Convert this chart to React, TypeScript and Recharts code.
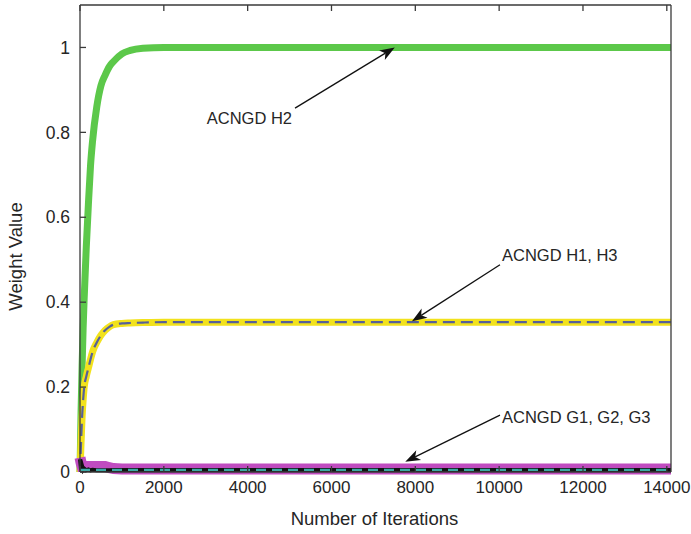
import React from 'react';
import { LineChart, Line, XAxis, YAxis, ReferenceLine } from 'recharts';

// Iteration checkpoints (x values)
const iterations = [0, 25, 50, 75, 100, 150, 200, 250, 300, 400, 500, 600, 700, 800, 1000, 1200, 1500, 2000, 4000, 6000, 8000, 10000, 12000, 14000, 14100];

// ACNGD weights per iteration
const weightH2 = [0, 0.14, 0.25, 0.34, 0.41, 0.53, 0.63, 0.72, 0.78, 0.86, 0.91, 0.935, 0.955, 0.967, 0.985, 0.993, 0.998, 1, 1, 1, 1, 1, 1, 1, 1];
const weightH1 = [0, 0.07, 0.13, 0.17, 0.2, 0.225, 0.245, 0.265, 0.283, 0.305, 0.322, 0.334, 0.342, 0.347, 0.35, 0.351, 0.352, 0.353, 0.353, 0.353, 0.353, 0.353, 0.353, 0.353, 0.353];
const weightH3 = [0, 0.07, 0.13, 0.17, 0.2, 0.225, 0.245, 0.265, 0.283, 0.305, 0.322, 0.334, 0.342, 0.347, 0.35, 0.351, 0.352, 0.353, 0.353, 0.353, 0.353, 0.353, 0.353, 0.353, 0.353];
const weightG1 = [0.034, 0.022, 0.013, 0.013, 0.013, 0.013, 0.013, 0.013, 0.013, 0.013, 0.013, 0.013, 0.01, 0.008, 0.007, 0.007, 0.007, 0.007, 0.007, 0.007, 0.007, 0.007, 0.007, 0.007, 0.007];
const weightG2 = [0.03, 0.006, 0.014, 0.005, 0.008, 0.004, 0.006, 0.004, 0.005, 0.004, 0.004, 0.004, 0.004, 0.005, 0.005, 0.005, 0.005, 0.005, 0.005, 0.005, 0.005, 0.005, 0.005, 0.005, 0.005];
const weightG3 = [0.005, 0.005, 0.005, 0.005, 0.005, 0.005, 0.005, 0.005, 0.005, 0.005, 0.005, 0.005, 0.005, 0.005, 0.005, 0.005, 0.005, 0.005, 0.005, 0.005, 0.005, 0.005, 0.005, 0.005, 0.005];

// Axis ticks and limits
const xTicks = [0, 2000, 4000, 6000, 8000, 10000, 12000, 14000];
const xLimits = [0, 14100];
const yTicks = [0, 0.2, 0.4, 0.6, 0.8, 1];
const yLimits = [0, 1.1];

// Annotations: text, arrow tail (iteration, weight), arrow tip (iteration, weight)
const annoText = ['ACNGD H2', 'ACNGD H1, H3', 'ACNGD G1, G2, G3'];
const annoTail = [[5130, 0.857], [10020, 0.488], [10020, 0.134]];
const annoTip = [[7510, 1.0], [7920, 0.355], [7760, 0.024]];
const annoTextStyle = [
  { dx: -3, dy: 10, anchor: 'end' },
  { dx: 2, dy: -10, anchor: 'start' },
  { dx: 2, dy: 2, anchor: 'start' },
];

const rows = iterations.map((it, i) => ({
  it,
  h2: weightH2[i],
  h1: weightH1[i],
  h3: weightH3[i],
  g1: weightG1[i],
  g2: weightG2[i],
  g3: weightG3[i],
}));

const FONT = '"Liberation Sans", Arial, sans-serif';
const TEXT = '#262626';
const AXIS = '#3a3a3a';

function Arrow(props: any) {
  const { x1, y1, x2, y2, text, style } = props;
  const dx = x2 - x1;
  const dy = y2 - y1;
  const len = Math.sqrt(dx * dx + dy * dy) || 1;
  const ux = dx / len;
  const uy = dy / len;
  const nx = -uy;
  const ny = ux;
  const L = 15;
  const W = 5.5;
  const notch = 4;
  const bx = x2 - L * ux;
  const by = y2 - L * uy;
  const mx = x2 - (L - notch) * ux;
  const my = y2 - (L - notch) * uy;
  const head = `${x2},${y2} ${bx + W * nx},${by + W * ny} ${mx},${my} ${bx - W * nx},${by - W * ny}`;
  return (
    <g>
      <line x1={x1} y1={y1} x2={mx} y2={my} stroke="#111" strokeWidth={1.3} />
      <polygon points={head} fill="#111" />
      <text
        x={x1 + style.dx}
        y={y1 + style.dy}
        textAnchor={style.anchor}
        dominantBaseline="central"
        fontFamily={FONT}
        fontSize={16.5}
        fill={TEXT}
      >
        {text}
      </text>
    </g>
  );
}

const fmtY = (v: number) => (v === 0 ? '0' : v === 1 ? '1' : String(v));

export default function App() {
  return (
    <div style={{ position: 'absolute', left: 0, top: 0, background: '#fff' }}>
      <LineChart
        width={691}
        height={534}
        data={rows}
        margin={{ top: 4, right: 19, bottom: 0, left: 0 }}
      >
        <XAxis
          xAxisId={0}
          dataKey="it"
          type="number"
          domain={xLimits}
          ticks={xTicks}
          height={62}
          tickSize={-6}
          tickMargin={15}
          axisLine={{ stroke: AXIS, strokeWidth: 1.3 }}
          tickLine={{ stroke: AXIS, strokeWidth: 1.3 }}
          tick={{ fill: TEXT, fontSize: 17, fontFamily: FONT }}
          interval={0}
          label={{
            content: (p: any) => {
              const vb = p.viewBox;
              return (
                <text
                  x={vb.x + vb.width / 2 - 1}
                  y={vb.y + 46}
                  textAnchor="middle"
                  dominantBaseline="central"
                  fontFamily={FONT}
                  fontSize={18.5}
                  fill={TEXT}
                >
                  Number of Iterations
                </text>
              );
            },
          }}
        />
        <XAxis
          xAxisId="top"
          orientation="top"
          dataKey="it"
          type="number"
          domain={xLimits}
          ticks={xTicks}
          height={1}
          tickSize={-6}
          interval={0}
          tickFormatter={() => ''}
          axisLine={{ stroke: AXIS, strokeWidth: 1.3 }}
          tickLine={{ stroke: AXIS, strokeWidth: 1.3 }}
        />
        <YAxis
          yAxisId={0}
          type="number"
          domain={yLimits}
          ticks={yTicks}
          width={80}
          tickSize={-6}
          tickMargin={16}
          interval={0}
          tickFormatter={fmtY}
          axisLine={{ stroke: AXIS, strokeWidth: 1.3 }}
          tickLine={{ stroke: AXIS, strokeWidth: 1.3 }}
          tick={{ fill: TEXT, fontSize: 17.5, fontFamily: FONT }}
          label={{
            content: (p: any) => {
              const vb = p.viewBox;
              const cx = vb.x + 15;
              const cy = vb.y + vb.height / 2 + 18;
              return (
                <text
                  x={cx}
                  y={cy}
                  transform={`rotate(-90, ${cx}, ${cy})`}
                  textAnchor="middle"
                  dominantBaseline="central"
                  fontFamily={FONT}
                  fontSize={18.5}
                  fill={TEXT}
                >
                  Weight Value
                </text>
              );
            },
          }}
        />
        <YAxis
          yAxisId="right"
          orientation="right"
          type="number"
          domain={yLimits}
          ticks={yTicks}
          width={1}
          tickSize={-6}
          interval={0}
          tickFormatter={() => ''}
          axisLine={{ stroke: AXIS, strokeWidth: 1.3 }}
          tickLine={{ stroke: AXIS, strokeWidth: 1.3 }}
        />

        <Line xAxisId={0} yAxisId={0} type="monotone" dataKey="h2" stroke="#5cc84a" strokeWidth={7} dot={false} isAnimationActive={false} />
        <Line xAxisId={0} yAxisId={0} type="monotone" dataKey="h1" stroke="#f2e21c" strokeWidth={7} dot={false} isAnimationActive={false} />
        <Line xAxisId={0} yAxisId={0} type="monotone" dataKey="h3" stroke="#56609a" strokeWidth={2.2} strokeDasharray="12 6" dot={false} isAnimationActive={false} />
        <Line xAxisId={0} yAxisId={0} type="linear" dataKey="g1" stroke="#c04cc0" strokeWidth={11} dot={false} isAnimationActive={false} />
        <Line xAxisId={0} yAxisId={0} type="linear" dataKey="g2" stroke="#111111" strokeWidth={4} dot={false} isAnimationActive={false} />
        <Line xAxisId={0} yAxisId={0} type="linear" dataKey="g3" stroke="#3aaaa6" strokeWidth={2.4} strokeDasharray="10 6" dot={false} isAnimationActive={false} />

        {annoText.map((t, i) => (
          <ReferenceLine
            key={t}
            xAxisId={0}
            yAxisId={0}
            segment={[
              { x: annoTail[i][0], y: annoTail[i][1] },
              { x: annoTip[i][0], y: annoTip[i][1] },
            ]}
            ifOverflow="visible"
            shape={(p: any) => <Arrow {...p} text={t} style={annoTextStyle[i]} />}
          />
        ))}
      </LineChart>
    </div>
  );
}
